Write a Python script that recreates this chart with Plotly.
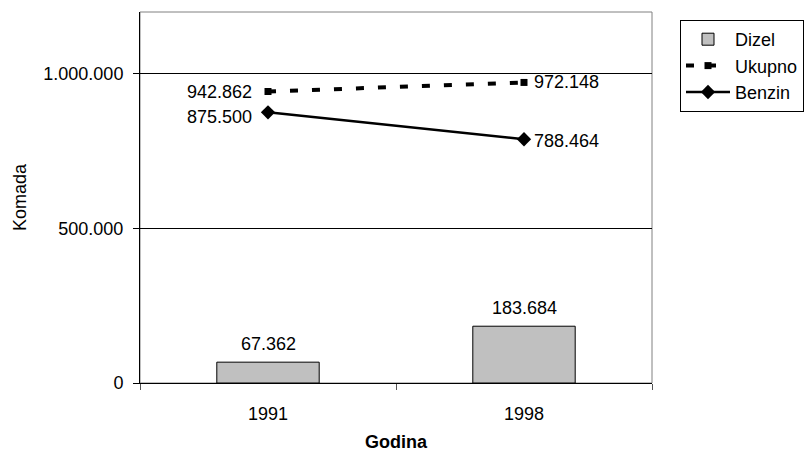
import plotly.graph_objects as go

godine = ["1991", "1998"]
dizel = [67362, 183684]
ukupno = [942862, 972148]
benzin = [875500, 788464]


def fmt(v):
    return f"{v:,}".replace(",", ".")


FAM = "Liberation Sans, Arial, sans-serif"
font = dict(family=FAM, size=18, color="black")

fig = go.Figure()
fig.add_trace(go.Bar(
    x=godine, y=dizel, name="Dizel", width=0.4,
    marker=dict(color="#c0c0c0", line=dict(color="black", width=1)),
))
fig.add_trace(go.Scatter(
    x=godine, y=ukupno, name="Ukupno", mode="lines+markers",
    line=dict(color="black", width=4, dash="8px,14px"),
    marker=dict(symbol="square", size=7, color="black"),
    cliponaxis=False,
))
fig.add_trace(go.Scatter(
    x=godine, y=benzin, name="Benzin", mode="lines+markers",
    line=dict(color="black", width=2.5),
    marker=dict(symbol="diamond", size=11, color="black"),
    cliponaxis=False,
))

# value labels anchored on the data points (category index on x)
annotations = []
for i, v in enumerate(dizel):
    annotations.append(dict(x=i, y=v, text=fmt(v), showarrow=False,
                            xanchor="center", yanchor="bottom", yshift=6,
                            font=font))
line_series = [(ukupno, [0, 0]), (benzin, [-5, -2])]
for vals, yshifts in line_series:
    for i, v in enumerate(vals):
        left = i == 0
        annotations.append(dict(
            x=i, y=v, text=fmt(v), showarrow=False,
            xanchor="right" if left else "left", yanchor="middle",
            xshift=-14 if left else 8, yshift=yshifts[i], font=font))

fig.update_layout(
    width=811, height=452,
    margin=dict(l=140, r=159, t=12, b=69, autoexpand=False),
    paper_bgcolor="white", plot_bgcolor="white",
    font=font,
    separators=",.",
    showlegend=True,
    legend=dict(
        xref="container", yref="container",
        x=680 / 811, y=1 - 20 / 452, xanchor="left", yanchor="top",
        bordercolor="black", borderwidth=1, bgcolor="white",
        font=dict(family=FAM, size=18, color="black"),
        tracegroupgap=0, itemwidth=44,
    ),
    xaxis=dict(
        type="category", range=[-0.5, 1.5], automargin=False,
        showgrid=False, ticks="outside", tickson="boundaries", tickangle=0,
        ticklen=6, tickcolor="#555555", showline=True, linecolor="black",
        linewidth=1, tickfont=font, ticklabelstandoff=14,
        title=dict(text="<b>Godina</b>", font=dict(family=FAM, size=18), standoff=17),
    ),
    yaxis=dict(
        range=[0, 1200000], tickvals=[0, 500000, 1000000],
        ticktext=["0", "500.000", "1.000.000"], automargin=False,
        showgrid=True, gridcolor="black", gridwidth=1,
        ticks="outside", ticklen=6, tickcolor="black",
        showline=True, linecolor="black", linewidth=1, tickfont=font,
        ticklabelstandoff=6, zeroline=False,
        title=dict(text="Komada", font=dict(family=FAM, size=18), standoff=12),
    ),
    annotations=annotations,
    shapes=[dict(type="rect", xref="paper", yref="paper", x0=0, x1=1, y0=0, y1=1,
                 line=dict(color="#808080", width=1), layer="below")],
)

fig.write_html("out.html")
